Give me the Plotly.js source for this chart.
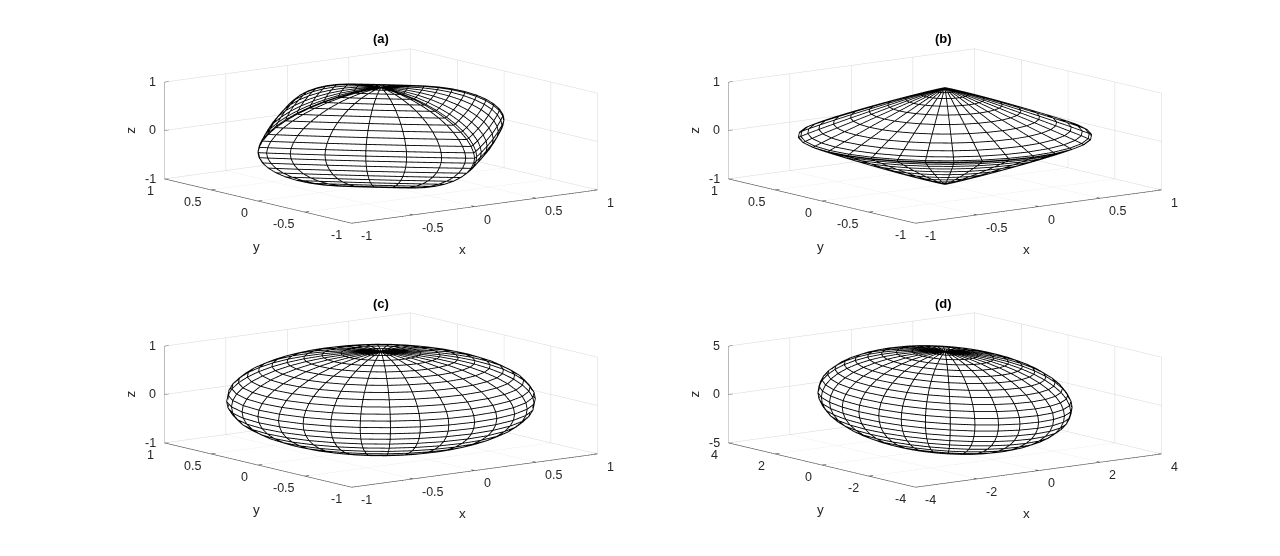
<!DOCTYPE html>
<html>
<head>
<meta charset="utf-8">
<script src="https://cdn.plot.ly/plotly-3.0.1.min.js"></script>
<style>html,body{margin:0;padding:0;background:#fff}#chart{width:1280px;height:556px}</style>
</head>
<body>
<div id="chart"></div>
<script>
// Meridian directions (32 segments, closed)
const circleX = [1,.9808,.9239,.8315,.7071,.5556,.3827,.1951,0,-.1951,-.3827,-.5556,-.7071,-.8315,-.9239,-.9808,-1,-.9808,-.9239,-.8315,-.7071,-.5556,-.3827,-.1951,0,.1951,.3827,.5556,.7071,.8315,.9239,.9808,1];
const circleY = [0,.1951,.3827,.5556,.7071,.8315,.9239,.9808,1,.9808,.9239,.8315,.7071,.5556,.3827,.1951,0,-.1951,-.3827,-.5556,-.7071,-.8315,-.9239,-.9808,-1,-.9808,-.9239,-.8315,-.7071,-.5556,-.3827,-.1951,0];
const diamondX = [1,.964,.860,.704,.518,.327,.161,.045,0,-.045,-.161,-.327,-.518,-.704,-.860,-.964,-1,-.964,-.860,-.704,-.518,-.327,-.161,-.045,0,.045,.161,.327,.518,.704,.860,.964,1];
const diamondY = [0,.045,.161,.327,.518,.704,.860,.964,1,.964,.860,.704,.518,.327,.161,.045,0,-.045,-.161,-.327,-.518,-.704,-.860,-.964,-1,-.964,-.860,-.704,-.518,-.327,-.161,-.045,0];
// Ring profiles, south pole to north pole (24 segments)
const sphereRho = [0,.1305,.2588,.3827,.5,.6088,.7071,.7934,.866,.9239,.9659,.9914,1,.9914,.9659,.9239,.866,.7934,.7071,.6088,.5,.3827,.2588,.1305,0];
const sphereZ = [-1,-.9914,-.9659,-.9239,-.866,-.7934,-.7071,-.6088,-.5,-.3827,-.2588,-.1305,0,.1305,.2588,.3827,.5,.6088,.7071,.7934,.866,.9239,.9659,.9914,1];
const panelARho = [0,.1065,.226,.3476,.4665,.5793,.6831,.7752,.8536,.9167,.9625,.9905,1,.9905,.9625,.9167,.8536,.7752,.6831,.5793,.4665,.3476,.226,.1065,0];
const panelAZ = [-1,-.9905,-.9625,-.9167,-.8536,-.7752,-.6831,-.5793,-.4665,-.3476,-.226,-.1065,0,.1065,.226,.3476,.4665,.5793,.6831,.7752,.8536,.9167,.9625,.9905,1];
const panelBRho = [0,.0199,.0728,.1531,.2545,.37,.4917,.6121,.7228,.8175,.8893,.9345,.95,.9345,.8893,.8175,.7228,.6121,.4917,.37,.2545,.1531,.0728,.0199,0];
const panelBZ = [-1,-.9837,-.9361,-.8605,-.7608,-.6443,-.5176,-.3895,-.2679,-.1612,-.0766,-.0209,0,.0209,.0766,.1612,.2679,.3895,.5176,.6443,.7608,.8605,.9361,.9837,1];
// Semi-axes
const semiAxesD = [2.8,4,5];
const semiAxesUnit = [1,1,1];
// Ticks
const ticksUnit = [-1,-.5,0,.5,1];
const labelsUnit = ['-1','-0.5','0','0.5','1'];
const ticksZUnit = [-1,0,1];
const labelsZUnit = ['-1','0','1'];
const ticksD = [-4,-2,0,2,4];
const labelsD = ['-4','-2','0','2','4'];
const ticksZD = [-5,0,5];
const labelsZD = ['-5','0','5'];
const panelTitles = ['(a)','(b)','(c)','(d)'];
const panelCentersX = [381,945,381,945];
const panelCentersY = [136,136,399.7,399.7];
const titleX = [381,943.3,381,943.3];
const titleY = [38,38,303,303];

const W = 1280, H = 556, SW = 560, SH = 262;
const EYE = 3;
const view = {x:-.593*EYE, y:-.785*EYE, z:.179*EYE};
const aspect = {x:2.355, y:2.371, z:.751};
const ink = '#262626', grid = '#d6d6d6';
const font = 'Liberation Sans, Arial, sans-serif';
const meshWidth = 1.8;

const panels = [
 {mx:diamondX, my:diamondY, rho:panelARho, pz:panelAZ, s:semiAxesUnit, t:ticksUnit, l:labelsUnit, tz:ticksZUnit, lz:labelsZUnit},
 {mx:circleX, my:circleY, rho:panelBRho, pz:panelBZ, s:semiAxesUnit, t:ticksUnit, l:labelsUnit, tz:ticksZUnit, lz:labelsZUnit},
 {mx:circleX, my:circleY, rho:sphereRho, pz:sphereZ, s:semiAxesUnit, t:ticksUnit, l:labelsUnit, tz:ticksZUnit, lz:labelsZUnit},
 {mx:circleX, my:circleY, rho:sphereRho, pz:sphereZ, s:semiAxesD, t:ticksD, l:labelsD, tz:ticksZD, lz:labelsZD}
];

const data = [], layout = {
  width:W, height:H, margin:{l:0,r:0,t:0,b:0}, paper_bgcolor:'#fff', showlegend:false,
  annotations: panelTitles.map((t,i)=>({text:'<b>'+t+'</b>', x:titleX[i]/W, y:1-titleY[i]/H, xref:'paper', yref:'paper', showarrow:false, xanchor:'center', yanchor:'middle', font:{family:font,size:13,color:'#000'}}))
};

panels.forEach((p,i)=>{
  const scene = i===0 ? 'scene' : 'scene'+(i+1);
  const sx = [], sy = [], sz = [];
  p.rho.forEach((r,k)=>{
    sx.push(p.mx.map(m=>r*m*p.s[0]*.992));
    sy.push(p.my.map(m=>r*m*p.s[1]*.992));
    sz.push(p.mx.map(()=>p.pz[k]*p.s[2]*.992));
  });
  data.push({type:'surface', scene, x:sx, y:sy, z:sz, surfacecolor:sz.map(r=>r.map(()=>0)), cmin:0, cmax:1, colorscale:[[0,'#fff'],[1,'#fff']], showscale:false, hoverinfo:'skip',
    lighting:{ambient:1,diffuse:0,specular:0,roughness:1,fresnel:0}, contours:{x:{show:false},y:{show:false},z:{show:false}}});
  // one line trace per ring and per meridian
  p.rho.forEach((r,k)=>{
    data.push({type:'scatter3d', scene, mode:'lines', x:p.mx.map(m=>r*m*p.s[0]), y:p.my.map(m=>r*m*p.s[1]), z:p.mx.map(()=>p.pz[k]*p.s[2]), line:{color:'#000',width:meshWidth}, hoverinfo:'skip'});
  });
  p.mx.forEach((m,j)=>{
    data.push({type:'scatter3d', scene, mode:'lines', x:p.rho.map(r=>r*m*p.s[0]), y:p.rho.map(r=>r*p.my[j]*p.s[1]), z:p.pz.map(v=>v*p.s[2]), line:{color:'#000',width:meshWidth}, hoverinfo:'skip'});
  });

  // axis lines and tick marks
  const t0=p.t[0], t1=p.t[p.t.length-1], z0=p.tz[0], z1=p.tz[p.tz.length-1], tl=(t1-t0)*.018;
  const ax=[t0,t1,null,t0,t0,null,t0,t0,null], ay=[t0,t0,null,t0,t1,null,t1,t1,null], az=[z0,z0,null,z0,z0,null,z0,z1,null];
  p.t.forEach(v=>{ ax.push(v,v,null); ay.push(t0,t0+tl,null); az.push(z0,z0,null);
                   ax.push(t0,t0+tl,null); ay.push(v,v,null); az.push(z0,z0,null); });
  p.tz.forEach(v=>{ ax.push(t0,t0+tl,null); ay.push(t1,t1,null); az.push(v,v,null); });
  data.push({type:'scatter3d', scene, mode:'lines', x:ax, y:ay, z:az, line:{color:ink,width:1.2}, hoverinfo:'skip', connectgaps:false});

  const axisBase = {showticklabels:false, showbackground:false, showline:false, zeroline:false, showspikes:false, gridcolor:grid, gridwidth:1, ticks:'', title:{text:''}, autorange:false};
  const ann = [];
  const tf = {family:font,size:12.5,color:ink};
  p.t.forEach((v,k)=>{
    ann.push({x:v,y:t0,z:z0,text:p.l[k],showarrow:false,xanchor:'left',yanchor:'middle',xshift:7,yshift:-13,font:tf});
    ann.push({x:t0,y:v,z:z0,text:p.l[k],showarrow:false,xanchor:'right',yanchor:'middle',xshift:-8,yshift:-12,font:tf});
  });
  p.tz.forEach((v,k)=>{
    ann.push({x:t0,y:t1,z:v,text:p.lz[k],showarrow:false,xanchor:'right',yanchor:'middle',xshift:-6,yshift:0,font:tf});
  });
  const mid=(t0+t1)/2;
  ann.push({x:mid,y:t0,z:z0,text:'x',showarrow:false,xshift:-12,yshift:-43,font:{family:font,size:13.5,color:ink}});
  ann.push({x:t0,y:mid,z:z0,text:'y',showarrow:false,xshift:-1,yshift:-45,font:{family:font,size:13.5,color:ink}});
  ann.push({x:t0,y:t1,z:0,text:'z',showarrow:false,xshift:-34,yshift:0,textangle:-90,font:{family:font,size:13.5,color:ink}});

  layout[scene] = {
    domain:{x:[(panelCentersX[i]-SW/2)/W,(panelCentersX[i]+SW/2)/W], y:[1-(panelCentersY[i]+SH/2)/H,1-(panelCentersY[i]-SH/2)/H]},
    aspectmode:'manual', aspectratio:aspect,
    camera:{eye:view, center:{x:0,y:0,z:0}, up:{x:0,y:0,z:1}, projection:{type:'orthographic'}},
    xaxis:Object.assign({},axisBase,{range:[t0,t1],tickvals:p.t}),
    yaxis:Object.assign({},axisBase,{range:[t0,t1],tickvals:p.t}),
    zaxis:Object.assign({},axisBase,{range:[z0,z1],tickvals:p.tz}),
    annotations:ann
  };
});
Plotly.newPlot('chart', data, layout, {displayModeBar:false});
</script>
</body>
</html>
